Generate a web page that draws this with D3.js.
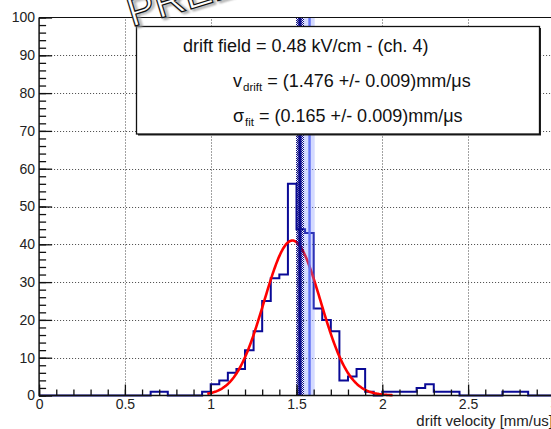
<!DOCTYPE html>
<html>
<head>
<meta charset="utf-8">
<script src="https://cdn.jsdelivr.net/npm/d3@7"></script>
<style>
  html, body { margin: 0; padding: 0; background: #fff; overflow: hidden; }
  svg { display: block; font-family: "Liberation Sans", Arial, Helvetica, sans-serif; }
</style>
</head>
<body>
<svg id="chart" width="551" height="429"></svg>
<script>
// ---- data -------------------------------------------------------------
// drift velocity histogram, 0.05 mm/us bins covering 0 .. 3 mm/us
const binWidth = 0.05;
const binCounts = [
  0, 0, 0, 0, 0, 0, 0, 0, 0, 0,      // 0.00 - 0.45
  0, 0, 0, 1, 1, 0, 0, 0, 0, 1,      // 0.50 - 0.95
  3, 4, 6, 7, 12, 17, 25, 31, 32, 56, // 1.00 - 1.45
  44, 43, 23, 20, 17, 4, 5, 7, 1, 0, // 1.50 - 1.95
  1, 1, 1, 1, 2, 3, 1, 1, 1, 0,      // 2.00 - 2.45
  0, 0, 0, 0, 1, 1, 1, 0, 0, 0       // 2.50 - 2.95
];
const binLowEdges = binCounts.map((_, i) => +(i * binWidth).toFixed(2));

// gaussian fit result
const fitMean = 1.476;
const fitSigma = 0.165;
const fitAmplitude = 41;
const fitRange = [0.98, 2.06];

// reference values drawn as vertical bands: [centre, low, high]
const refDark = [1.520, 1.497, 1.544];
const refLight = [1.576, 1.544, 1.606];

// axes
const xTickValues = [0, 0.5, 1, 1.5, 2, 2.5, 3];
const xTickLabels = ["0", "0.5", "1", "1.5", "2", "2.5", "3"];
const xMinorTicks = d3.range(0, 31).map(i => i / 10);
const yTickValues = [0, 10, 20, 30, 40, 50, 60, 70, 80, 90, 100];
const yTickLabels = ["0", "10", "20", "30", "40", "50", "60", "70", "80", "90", "100"];
const yMinorTicks = d3.range(0, 101, 2);
const xGridValues = [0.5, 1, 1.5, 2, 2.5];
const yGridValues = [10, 20, 30, 40, 50, 60, 70, 80, 90];

const xTitle = "drift velocity [mm/us]";
const statLine1 = "drift field = 0.48 kV/cm - (ch. 4)";
const statLine2 = ["v", "drift", " = (1.476 +/- 0.009)mm/\u03bcs"];
const statLine3 = ["\u03c3", "fit", " = (0.165 +/- 0.009)mm/\u03bcs"];
const watermark = "PRELIMINARY";

// ---- drawing ----------------------------------------------------------
const svg = d3.select("#chart");
const x = d3.scaleLinear().domain([0, 3]).range([39.1, 553.9]);
const y = d3.scaleLinear().domain([0, 100]).range([395.5, 17.5]);

const defs = svg.append("defs");
const hatch = defs.append("pattern")
  .attr("id", "hatch").attr("patternUnits", "userSpaceOnUse")
  .attr("width", 2).attr("height", 2);
hatch.append("rect").attr("x", 0).attr("y", 0).attr("width", 1).attr("height", 1).attr("fill", "#0a0a8c");
hatch.append("rect").attr("x", 1).attr("y", 1).attr("width", 1).attr("height", 1).attr("fill", "#0a0a8c");
defs.append("filter").attr("id", "soft")
  .append("feGaussianBlur").attr("stdDeviation", 1.2);

// grid
const grid = svg.append("g")
  .attr("stroke", "#444").attr("stroke-width", 1).attr("stroke-dasharray", "1,2");
grid.selectAll("line.gx").data(xGridValues).join("line")
  .attr("x1", d => Math.round(x(d)) + 0.5).attr("x2", d => Math.round(x(d)) + 0.5)
  .attr("y1", y(0)).attr("y2", y(100));
grid.selectAll("line.gy").data(yGridValues).join("line")
  .attr("y1", d => Math.round(y(d)) + 0.5).attr("y2", d => Math.round(y(d)) + 0.5)
  .attr("x1", x(0)).attr("x2", x(3));

// histogram outline
const histPoints = binLowEdges.map((e, i) => [e, binCounts[i]]);
histPoints.push([3, binCounts[binCounts.length - 1]]);
const histLine = d3.line()
  .x(d => x(d[0])).y(d => y(d[1]))
  .curve(d3.curveStepAfter);
svg.append("path")
  .attr("d", histLine(histPoints))
  .attr("fill", "none").attr("stroke", "#0a0a96").attr("stroke-width", 2);

// gaussian fit curve
const fitXs = d3.range(fitRange[0], fitRange[1] + 1e-9, 0.005);
const fitLine = d3.line()
  .x(v => x(v))
  .y(v => y(fitAmplitude * Math.exp(-((v - fitMean) ** 2) / (2 * fitSigma * fitSigma))));
svg.append("path")
  .attr("d", fitLine(fitXs))
  .attr("fill", "none").attr("stroke", "#ff0000").attr("stroke-width", 2.6);

// reference bands
svg.append("rect")
  .attr("x", x(refLight[1])).attr("width", x(refLight[2]) - x(refLight[1]))
  .attr("y", y(100)).attr("height", y(0) - y(100))
  .attr("fill", "rgba(120,140,255,0.32)");
svg.append("line")
  .attr("x1", x(refLight[0])).attr("x2", x(refLight[0]))
  .attr("y1", y(100)).attr("y2", y(0))
  .attr("stroke", "#6272f5").attr("stroke-width", 2.4);
svg.append("rect")
  .attr("x", x(refDark[1])).attr("width", x(refDark[2]) - x(refDark[1]))
  .attr("y", y(100)).attr("height", y(0) - y(100))
  .attr("fill", "url(#hatch)");
svg.append("line")
  .attr("x1", x(refDark[0])).attr("x2", x(refDark[0]))
  .attr("y1", y(100)).attr("y2", y(0))
  .attr("stroke", "#0a0a8c").attr("stroke-width", 3.2);

// axes: labels
const axisFont = g => g.selectAll("text")
  .attr("font-size", 14).attr("fill", "#222")
  .attr("font-family", "'Liberation Sans', Arial, sans-serif");

svg.append("g")
  .attr("transform", `translate(${x(0)},0)`)
  .call(d3.axisLeft(y).tickValues(yTickValues).tickSize(0).tickPadding(4)
    .tickFormat((d, i) => yTickLabels[i]))
  .call(g => g.select(".domain").remove())
  .call(axisFont);

svg.append("g")
  .attr("transform", `translate(0,${y(0)})`)
  .call(d3.axisBottom(x).tickValues(xTickValues).tickSize(0).tickPadding(4)
    .tickFormat((d, i) => xTickLabels[i]))
  .call(g => g.select(".domain").remove())
  .call(axisFont);

// axes: inward ticks
const tickStyle = g => g.call(s => s.select(".domain").remove())
  .selectAll("line").attr("stroke", "#111").attr("stroke-width", 1.3);
svg.append("g").attr("transform", `translate(${x(0)},0)`)
  .call(d3.axisRight(y).tickValues(yMinorTicks).tickSize(7).tickFormat(""))
  .call(tickStyle);
svg.append("g").attr("transform", `translate(${x(0)},0)`)
  .call(d3.axisRight(y).tickValues(yTickValues).tickSize(13).tickFormat(""))
  .call(tickStyle);
svg.append("g").attr("transform", `translate(0,${y(0)})`)
  .call(d3.axisTop(x).tickValues(xMinorTicks).tickSize(6).tickFormat(""))
  .call(tickStyle);
svg.append("g").attr("transform", `translate(0,${y(0)})`)
  .call(d3.axisTop(x).tickValues(xTickValues).tickSize(11).tickFormat(""))
  .call(tickStyle);

// frame
const frame = svg.append("g").attr("stroke", "#111").attr("fill", "none");
frame.append("line").attr("x1", x(0)).attr("x2", x(0)).attr("y1", y(0) + 0.7).attr("y2", y(100)).attr("stroke-width", 1.5);
frame.append("line").attr("x1", x(0)).attr("x2", x(3)).attr("y1", y(0)).attr("y2", y(0)).attr("stroke-width", 1.5);
frame.append("line").attr("x1", x(0)).attr("x2", x(3)).attr("y1", y(100)).attr("y2", y(100)).attr("stroke-width", 1);

// axis title
svg.append("text")
  .attr("x", 553).attr("y", 426).attr("text-anchor", "end")
  .attr("font-size", 15).attr("fill", "#222")
  .text(xTitle);

// statistics box
const box = svg.append("g");
box.append("rect").attr("x", 138).attr("y", 28).attr("width", 403).attr("height", 107.5).attr("fill", "#222");
box.append("rect").attr("x", 136.5).attr("y", 26.5).attr("width", 403).attr("height", 107.5)
  .attr("fill", "#fff").attr("stroke", "#111").attr("stroke-width", 1.3);
box.append("text").attr("x", 183).attr("y", 51.5).attr("font-size", 18).attr("fill", "#111").text(statLine1);

function statText(yPos, parts) {
  const t = box.append("text").attr("x", 233).attr("y", yPos).attr("font-size", 18).attr("fill", "#111");
  t.append("tspan").text(parts[0]);
  t.append("tspan").attr("font-size", 11.5).attr("dy", 4).attr("dx", 1).text(parts[1]);
  t.append("tspan").attr("dy", -4).text(parts[2]);
}
statText(86.5, statLine2);
statText(121.5, statLine3);

// watermark
const wm = svg.append("g").attr("transform", "translate(132,27) rotate(-17)");
wm.append("text").attr("x", 2).attr("y", 1.5)
  .attr("font-size", 42).attr("fill", "none").attr("stroke", "#999").attr("stroke-width", 2)
  .attr("filter", "url(#soft)").text(watermark);
wm.append("text").attr("x", 0).attr("y", 0)
  .attr("font-size", 42).attr("fill", "#fff").attr("stroke", "#111").attr("stroke-width", 1.2)
  .text(watermark);
</script>
</body>
</html>
